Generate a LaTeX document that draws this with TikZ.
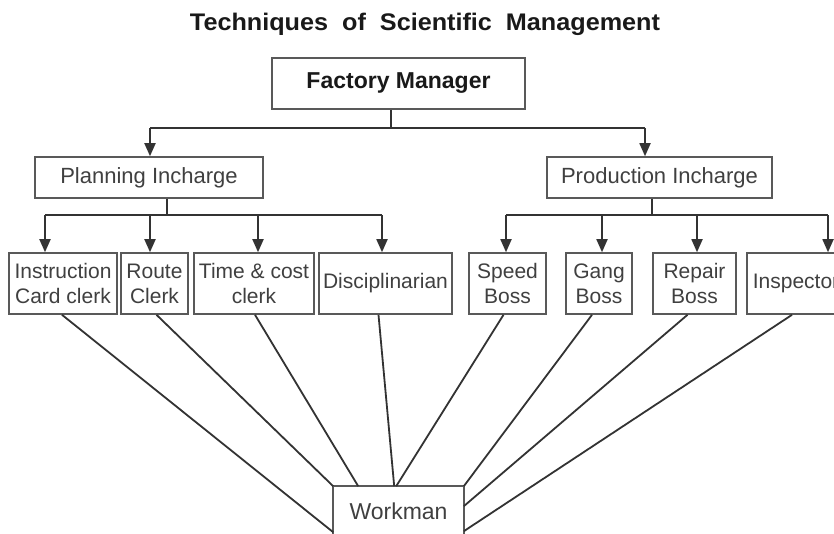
\documentclass[tikz,border=0pt]{standalone}
\usepackage{fontspec}
\setmainfont{Liberation Sans}
\usetikzlibrary{arrows.meta,calc}
\begin{document}
\begin{tikzpicture}[x=1pt,y=-1pt,
  box/.style={draw=black!65, line width=1.6pt, fill=white, inner sep=0pt, align=center, text=black!75},
  small/.style={font=\fontsize{21}{25}\selectfont},
  mid/.style={font=\fontsize{22}{26}\selectfont},
  conn/.style={draw=black!80, line width=1.8pt},
  arr/.style={conn, -{Triangle[width=11pt,length=13pt]}},
  ]
\useasboundingbox (0,0) rectangle (834,533);
\clip (0,0) rectangle (834,533);
\fill[white] (0,0) rectangle (834,533);

% title
\node[font=\bfseries\fontsize{24}{27}\selectfont, text=black!90, inner sep=0pt, xscale=1.05] (title) at (425,24) {Techniques \ of \ Scientific \ Management};

% boxes
\node[box, minimum width=253pt, minimum height=51pt, text=black!90, font=\bfseries\fontsize{23}{26}\selectfont] (fm) at (398.5,83.5) {Factory Manager};
\node[box, mid, minimum width=228pt, minimum height=41pt] (pi) at (149,177.5) {Planning Incharge};
\node[box, mid, minimum width=225pt, minimum height=41pt] (pr) at (659.5,177.5) {Production Incharge};

\node[box, small, minimum width=108pt, minimum height=61pt] (ic) at (63,283.5) {Instruction\\Card clerk};
\node[box, small, minimum width=67pt, minimum height=61pt] (rc) at (154.5,283.5) {Route\\Clerk};
\node[box, small, minimum width=120pt, minimum height=61pt] (tc) at (254,283.5) {Time \& cost\\clerk};
\node[box, small, minimum width=133pt, minimum height=61pt] (dc) at (385.5,283.5) {Disciplinarian};
\node[box, small, minimum width=77pt, minimum height=61pt] (sb) at (507.5,283.5) {Speed\\Boss};
\node[box, small, minimum width=66pt, minimum height=61pt] (gb) at (599,283.5) {Gang\\Boss};
\node[box, small, minimum width=83pt, minimum height=61pt] (rb) at (694.5,283.5) {Repair\\Boss};
\node[box, small, minimum width=98pt, minimum height=61pt] (ins) at (796,283.5) {Inspector};

\node[box, draw=none, font=\fontsize{23}{26}\selectfont, minimum width=129pt, minimum height=48pt] (wm) at (398.5,511) {Workman};
\draw[draw=black!65, line width=1.6pt] (wm.north west) rectangle ($(wm.south east)+(0,15)$);

% top level
\coordinate (fj) at (391,128);
\draw[conn] (fm.south -| fj) -- (fj);
\draw[conn] (150,128) -- (645,128);
\draw[arr] (150,128) -- (pi.north -| 150,0);
\draw[arr] (645,128) -- (pr.north -| 645,0);

% planning
\coordinate (pj) at (167,215);
\draw[conn] (pi.south -| pj) -- (pj);
\draw[conn] (45,215) -- (382,215);
\draw[arr] (45,215) -- (ic.north -| 45,0);
\draw[arr] (150,215) -- (rc.north -| 150,0);
\draw[arr] (258,215) -- (tc.north -| 258,0);
\draw[arr] (382,215) -- (dc.north -| 382,0);

% production
\coordinate (qj) at (652,215);
\draw[conn] (pr.south -| qj) -- (qj);
\draw[conn] (506,215) -- (828,215);
\draw[arr] (506,215) -- (sb.north -| 506,0);
\draw[arr] (602,215) -- (gb.north -| 602,0);
\draw[arr] (697,215) -- (rb.north -| 697,0);
\draw[arr] (828,215) -- (ins.north -| 828,0);

% to workman
\draw[conn] ($(ic.south)+(-1,0)$) -- ($(wm.north west)+(0,46)$);
\draw[conn] ($(rc.south)+(2,0)$) -- (wm.north west);
\draw[conn] ($(tc.south)+(1,0)$) -- ($(wm.north west)+(25,0)$);
\draw[conn] ($(dc.south)+(-7,0)$) -- ($(wm.north west)+(61,0)$);
\draw[conn] ($(sb.south)+(-4,0)$) -- ($(wm.north west)+(63,0)$);
\draw[conn] ($(gb.south)+(-7,0)$) -- (wm.north east);
\draw[conn] ($(rb.south)+(-7,0)$) -- ($(wm.north east)+(0,20)$);
\draw[conn] ($(ins.south)+(-4,0)$) -- ($(wm.north east)+(0,45)$);
\end{tikzpicture}
\end{document}
